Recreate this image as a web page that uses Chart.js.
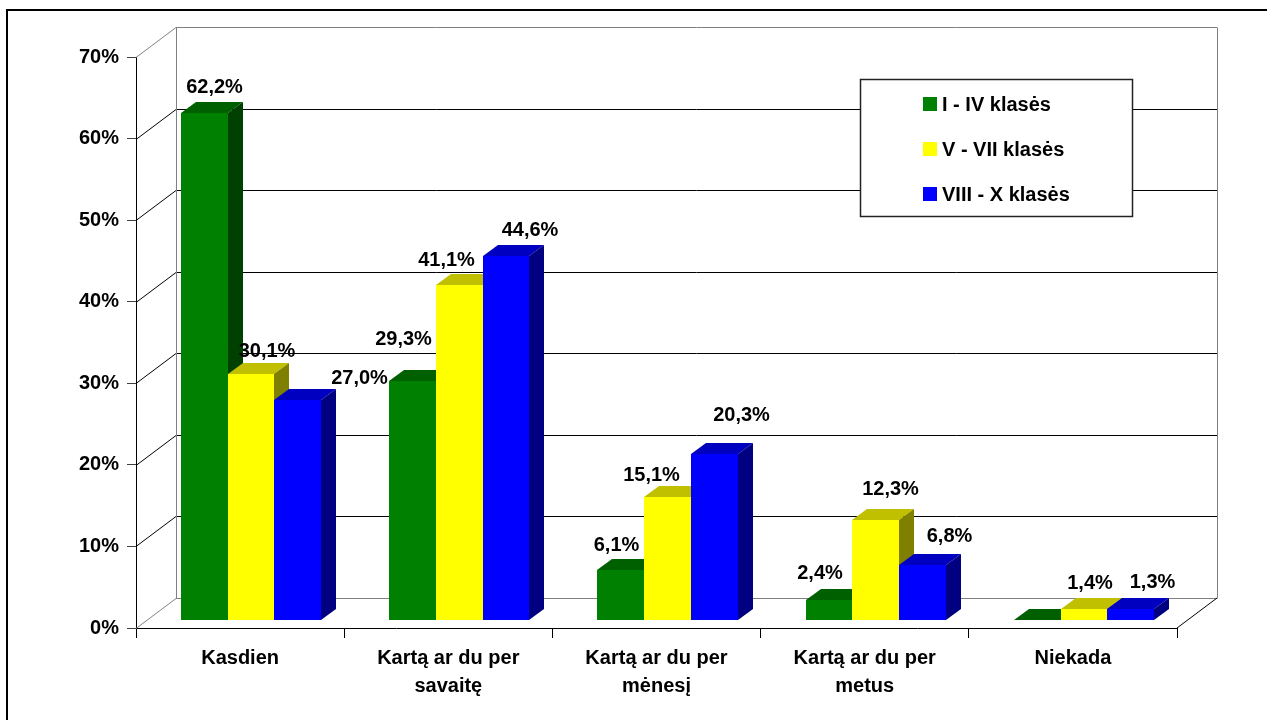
<!DOCTYPE html>
<html>
<head>
<meta charset="utf-8">
<script src="https://cdn.jsdelivr.net/npm/chart.js@4.4.1/dist/chart.umd.min.js"></script>
<style>
  html, body { margin: 0; padding: 0; background: #ffffff; }
  canvas { display: block; }
</style>
</head>
<body>
<canvas id="chart" width="1267" height="720"></canvas>
<script>
// categories and series
const categories = [
  "Kasdien",
  ["Kartą ar du per", "savaitę"],
  ["Kartą ar du per", "mėnesį"],
  ["Kartą ar du per", "metus"],
  "Niekada",
];
const seriesNames = ["I - IV klasės", "V - VII klasės", "VIII - X klasės"];
const gradesI_IV = [62.2, 29.3, 6.1, 2.4, 0];
const gradesV_VII = [30.1, 41.1, 15.1, 12.3, 1.4];
const gradesVIII_X = [27.0, 44.6, 20.3, 6.8, 1.3];
const yTicks = [0, 10, 20, 30, 40, 50, 60, 70];

// styles
const FONT = '"Liberation Sans", Arial, sans-serif';
const frontColors = ["#008000", "#ffff00", "#0000ff"];
const topColors = ["#006000", "#c0c000", "#0000c0"];
const sideColors = ["#004000", "#808000", "#000080"];
const BACK = { dx: 40, dy: -30 }; // back wall offset from the front axes
const BAR_PLANE = { dx: 11, dy: -8 }; // where the bar front faces sit
const DEPTH = { dx: 15, dy: -11 }; // bar depth

// value label placement, like Excel put them: [shift right, lift above bar top]
const labelNudge = [
  [[10, 15], [16, 12], [62, 11]],
  [[-9, 31], [-13, 14], [24, 15]],
  [[-4, 14], [-16, 11], [27, 28]],
  [[-9, 16], [15, 20], [27, 18]],
  [[0, 14], [6, 15], [22, 16]],
];

function poly(ctx, pts, color) {
  ctx.beginPath();
  ctx.moveTo(pts[0][0], pts[0][1]);
  for (let i = 1; i < pts.length; i++) ctx.lineTo(pts[i][0], pts[i][1]);
  ctx.closePath();
  ctx.fillStyle = color;
  ctx.fill();
}

const frame3d = {
  id: "frame3d",
  beforeDraw(chart) {
    const ctx = chart.ctx;
    ctx.save();
    ctx.strokeStyle = "#000";
    ctx.lineWidth = 2;
    ctx.strokeRect(7, 10, 1300, 800);
    ctx.restore();
  },
  beforeDatasetsDraw(chart) {
    const { ctx, chartArea: a, scales } = chart;
    const y = scales.y;
    ctx.save();
    ctx.lineWidth = 1;
    yTicks.forEach((v) => {
      const py = Math.round(y.getPixelForValue(v)) + 0.5;
      const edge = v === yTicks[0] || v === yTicks[yTicks.length - 1];
      ctx.strokeStyle = edge ? "#808080" : "#000";
      ctx.beginPath();
      ctx.moveTo(a.left, py);
      ctx.lineTo(a.left + BACK.dx, py + BACK.dy);
      ctx.lineTo(a.right + BACK.dx, py + BACK.dy);
      ctx.stroke();
    });
    const top = Math.round(y.getPixelForValue(yTicks[yTicks.length - 1])) + 0.5 + BACK.dy;
    const bottom = Math.round(y.getPixelForValue(0)) + 0.5 + BACK.dy;
    ctx.strokeStyle = "#808080";
    ctx.beginPath();
    ctx.moveTo(Math.round(a.left + BACK.dx) + 0.5, top);
    ctx.lineTo(Math.round(a.left + BACK.dx) + 0.5, bottom);
    ctx.moveTo(Math.round(a.right + BACK.dx) + 0.5, top);
    ctx.lineTo(Math.round(a.right + BACK.dx) + 0.5, bottom);
    ctx.stroke();
    // right edge of the floor
    ctx.strokeStyle = "#000";
    ctx.beginPath();
    ctx.moveTo(a.right, a.bottom);
    ctx.lineTo(a.right + BACK.dx, a.bottom + BACK.dy);
    ctx.stroke();
    ctx.restore();
  },
  beforeDatasetDraw() {
    return false; // boxes are drawn below instead
  },
  afterDatasetsDraw(chart) {
    const ctx = chart.ctx;
    const metas = chart.data.datasets.map((_, i) => chart.getDatasetMeta(i));
    ctx.save();
    const labels = [];
    categories.forEach((_, j) => {
      metas.forEach((meta, i) => {
        const bar = meta.data[j];
        const p = bar.getProps(["x", "y", "base", "width"], true);
        const l = Math.round(p.x - p.width / 2 + BAR_PLANE.dx);
        const r = Math.round(p.x + p.width / 2 + BAR_PLANE.dx);
        const t = Math.round(p.y + BAR_PLANE.dy);
        const b = Math.round(p.base + BAR_PLANE.dy);
        ctx.fillStyle = frontColors[i];
        ctx.fillRect(l, t, r - l, b - t);
        poly(ctx, [[l, t], [l + DEPTH.dx, t + DEPTH.dy], [r + DEPTH.dx, t + DEPTH.dy], [r, t]], topColors[i]);
        poly(ctx, [[r, t], [r + DEPTH.dx, t + DEPTH.dy], [r + DEPTH.dx, b + DEPTH.dy], [r, b]], sideColors[i]);
        const value = chart.data.datasets[i].data[j];
        if (value > 0) {
          const n = labelNudge[j][i];
          labels.push({
            text: value.toFixed(1).replace(".", ",") + "%",
            x: (l + r) / 2 + n[0],
            y: t + DEPTH.dy - n[1],
          });
        }
      });
    });
    ctx.fillStyle = "#000";
    ctx.font = "bold 20px " + FONT;
    ctx.textAlign = "center";
    ctx.textBaseline = "middle";
    labels.forEach((lb) => ctx.fillText(lb.text, lb.x, lb.y));
    ctx.restore();
  },
  afterDraw(chart) {
    const ctx = chart.ctx;
    ctx.save();
    ctx.fillStyle = "#fff";
    ctx.fillRect(860, 79, 272, 137);
    ctx.strokeStyle = "#222";
    ctx.lineWidth = 1.5;
    ctx.strokeRect(860.5, 79.5, 272, 137);
    ctx.font = "bold 20px " + FONT;
    ctx.textAlign = "left";
    ctx.textBaseline = "middle";
    seriesNames.forEach((name, i) => {
      const cy = 104 + i * 45;
      ctx.fillStyle = frontColors[i];
      ctx.fillRect(923, cy - 7, 14, 14);
      ctx.fillStyle = "#000";
      ctx.fillText(name, 942, cy + 1);
    });
    ctx.restore();
  },
};

Chart.defaults.font.family = FONT;
Chart.defaults.color = "#000";

new Chart(document.getElementById("chart"), {
  type: "bar",
  data: {
    labels: categories,
    datasets: [
      { label: seriesNames[0], data: gradesI_IV, backgroundColor: frontColors[0] },
      { label: seriesNames[1], data: gradesV_VII, backgroundColor: frontColors[1] },
      { label: seriesNames[2], data: gradesVIII_X, backgroundColor: frontColors[2] },
    ],
  },
  options: {
    responsive: false,
    animation: false,
    devicePixelRatio: 1,
    layout: { padding: { top: 57, right: 90, left: 0, bottom: 0 } },
    datasets: { bar: { categoryPercentage: 0.673, barPercentage: 1 } },
    plugins: { legend: { display: false }, tooltip: { enabled: false } },
    scales: {
      x: {
        grid: { drawOnChartArea: false, tickLength: 10, color: "#000", offset: true },
        border: { color: "#000" },
        ticks: { font: { size: 20, weight: "bold", lineHeight: 1.4 }, padding: 6, maxRotation: 0 },
        afterFit: (s) => { s.height = 92; },
      },
      y: {
        min: 0,
        max: 70,
        grid: { drawOnChartArea: false, tickLength: 9, color: "#404040" },
        border: { color: "#000" },
        ticks: { stepSize: 10, font: { size: 20, weight: "bold" }, padding: 8, callback: (v) => v + "%" },
        afterFit: (s) => { s.width = 136; },
      },
    },
  },
  plugins: [frame3d],
});
</script>
</body>
</html>
